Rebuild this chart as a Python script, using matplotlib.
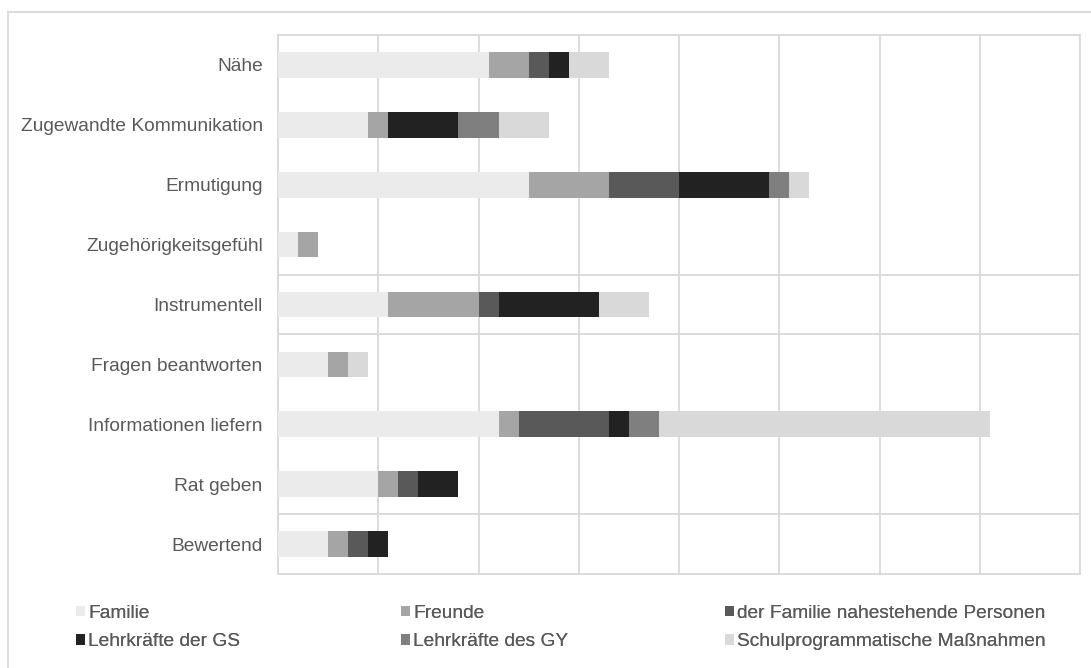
import numpy as np
import matplotlib.pyplot as plt
from matplotlib.patches import Rectangle

plt.rcParams['font.family'] = ['Liberation Sans', 'DejaVu Sans']

categories = ['Nähe', 'Zugewandte Kommunikation', 'Ermutigung', 'Zugehörigkeitsgefühl',
              'Instrumentell', 'Fragen beantworten', 'Informationen liefern',
              'Rat geben', 'Bewertend']
series_names = ['Familie', 'Freunde', 'der Familie nahestehende Personen',
                'Lehrkräfte der GS', 'Lehrkräfte des GY', 'Schulprogrammatische Maßnahmen']

familie = [21, 9, 25, 2, 11, 5, 22, 10, 5]
freunde = [4, 2, 8, 2, 9, 2, 2, 2, 2]
nahestehend = [2, 0, 7, 0, 2, 0, 9, 2, 2]
lehrer_gs = [2, 7, 9, 0, 10, 0, 2, 4, 2]
lehrer_gy = [0, 4, 2, 0, 0, 0, 3, 0, 0]
schulprog = [4, 5, 2, 0, 5, 2, 33, 0, 0]

colors = ['#ebebeb', '#a5a5a5', '#595959', '#222222', '#7f7f7f', '#d9d9d9']
W, H = 1091, 668

fig = plt.figure(figsize=(W / 100, H / 100), dpi=100)
ax = fig.add_axes([278 / W, 1 - 574 / H, (1080 - 278) / W, (574 - 35) / H])

y = np.arange(len(categories))
left = np.zeros(len(categories))
for name, vals, c in zip(series_names,
                         [familie, freunde, nahestehend, lehrer_gs, lehrer_gy, schulprog],
                         colors):
    ax.barh(y, vals, left=left, height=0.43, color=c, label=name, zorder=3)
    left += np.array(vals)

ax.set_ylim(len(categories) - 0.5, -0.5)
ax.set_xlim(0, 80)
ax.set_xticks(np.arange(0, 81, 10))
ax.set_xticklabels([])
ax.tick_params(axis='x', length=0)
ax.tick_params(axis='y', length=0, pad=11, labelsize=13.8, labelcolor='#595959')
ax.set_yticks(y)
ax.set_yticklabels(categories)
ax.grid(axis='x', color='#d9d9d9', linewidth=1.3, zorder=0)
for s in ax.spines.values():
    s.set_color('#d9d9d9')
    s.set_linewidth(1.3)
# faint separator lines seen in the source image
for yy in [3.5, 4.5, 7.5]:
    ax.axhline(yy, color='#d9d9d9', linewidth=1.3, zorder=1)

fig.patches.append(Rectangle((8 / W, -0.1), 1.2, 1 - 12 / H + 0.1, transform=fig.transFigure,
                             fill=False, edgecolor='#d9d9d9', linewidth=1.3))

# legend: three columns, two rows
handles, labels = ax.get_legend_handles_labels()
col_x = [76, 401, 725]
for col, (i, j) in enumerate([(0, 3), (1, 4), (2, 5)]):
    lg = fig.legend([handles[i], handles[j]], [labels[i], labels[j]],
                    loc='center left', bbox_to_anchor=(col_x[col] / W, 1 - 627.5 / H),
                    frameon=False, fontsize=13.8, handlelength=0.45, handleheight=0.45,
                    handletextpad=0.2, labelspacing=0.6, borderpad=0, borderaxespad=0,
                    labelcolor='#595959')
    fig.add_artist(lg)

fig.savefig('out.png', dpi=100)
